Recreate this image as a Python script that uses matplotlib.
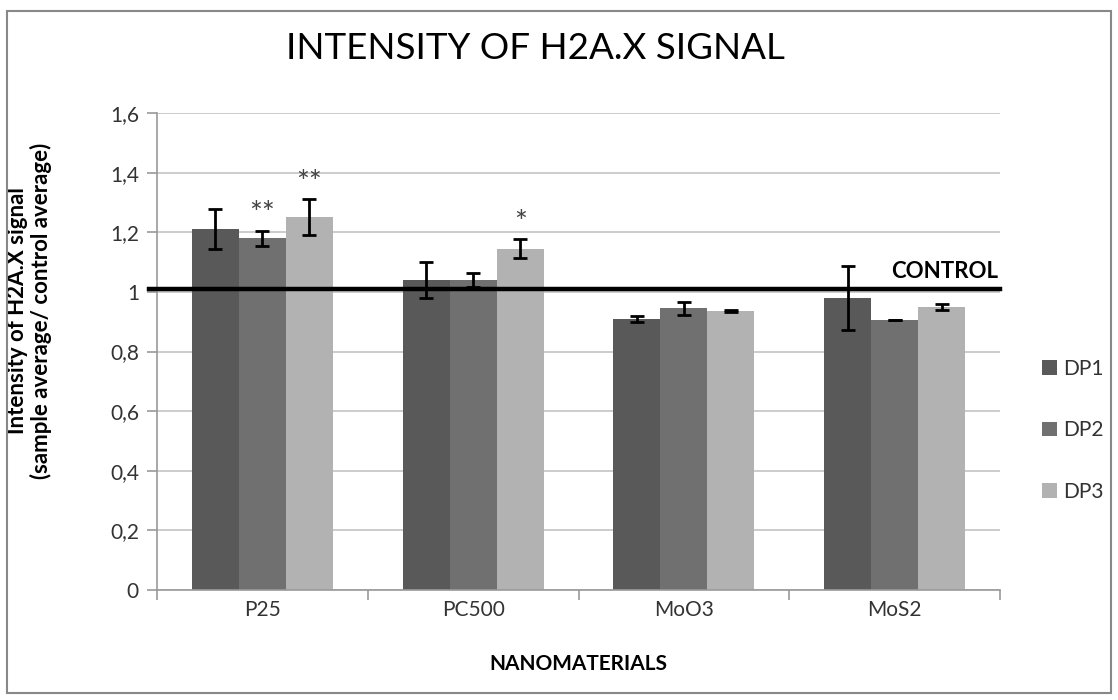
import matplotlib.pyplot as plt
import numpy as np
from matplotlib.patches import Rectangle

plt.rcParams['font.family'] = ['Lato', 'DejaVu Sans']

materials = ['P25', 'PC500', 'MoO3', 'MoS2']
series = ['DP1', 'DP2', 'DP3']
dp1 = [1.21, 1.04, 0.91, 0.98]
dp2 = [1.18, 1.04, 0.945, 0.905]
dp3 = [1.25, 1.145, 0.935, 0.95]
err1 = [0.067, 0.06, 0.01, 0.108]
err2 = [0.025, 0.023, 0.021, 0.0]
err3 = [0.06, 0.032, 0.003, 0.011]
stars = [['', '**', '**'], ['', '', '*'], ['', '', ''], ['', '', '']]
control = 1.01
colors = ['#595959', '#707070', '#b2b2b2']

fig = plt.figure(figsize=(11.18, 7), dpi=100)
ax = fig.add_axes([0.1404, 0.1571, 0.7541, 0.6815])

# outer frame like the excel chart area
fig.patches.append(Rectangle((0.0063, 0.01), 0.9874, 0.974, transform=fig.transFigure,
                             fill=False, edgecolor='#888888', linewidth=1.5))

x = np.arange(len(materials))
w = 0.223
vals = [dp1, dp2, dp3]
errs = [err1, err2, err3]
for i in range(3):
    pos = x + (i - 1) * w
    ax.bar(pos, vals[i], w, color=colors[i], label=series[i], zorder=2)
    ax.errorbar(pos, vals[i], yerr=errs[i], fmt='none', ecolor='black',
                elinewidth=2, capsize=5, capthick=2, zorder=4)
    for j in range(len(materials)):
        if stars[j][i]:
            ax.text(pos[j], vals[i][j] + errs[i][j] + 0.008, stars[j][i],
                    ha='center', va='bottom', fontsize=22, color='#444444')

ax.axhline(control, xmin=-0.01, xmax=1, color='black', linewidth=3.2, zorder=5, clip_on=False)
ax.text(3.49, control + 0.022, 'CONTROL', ha='right', va='bottom',
        fontsize=16, fontweight='bold')

ax.set_xlim(-0.5, 3.5)
ax.set_ylim(0, 1.6)
ax.set_yticks(np.arange(0, 1.61, 0.2))
ax.set_yticklabels(['0', '0,2', '0,4', '0,6', '0,8', '1', '1,2', '1,4', '1,6'])
ax.yaxis.grid(True, color='#c4c4c4', linewidth=1.2)
ax.set_axisbelow(True)
ax.set_xticks(x)
ax.set_xticklabels(materials)
ax.set_xticks(np.arange(-0.5, 3.6, 1), minor=True)
ax.tick_params(axis='x', which='major', length=0, pad=7, labelsize=15, labelcolor='#333333')
ax.tick_params(axis='x', which='minor', length=7, color='#999999', width=1.2)
ax.tick_params(axis='y', length=7, color='#999999', width=1.2, labelsize=15,
               labelcolor='#333333', pad=6)
for s in ['top', 'right']:
    ax.spines[s].set_visible(False)
for s in ['left', 'bottom']:
    ax.spines[s].set_color('#999999')
    ax.spines[s].set_linewidth(1.2)

ax.set_ylabel('Intensity of H2A.X signal\n(sample average/ control average)',
              fontsize=16, fontweight='bold', linespacing=1.1)
ax.yaxis.set_label_coords(-0.125, 0.585)
ax.set_xlabel('NANOMATERIALS', fontsize=15, fontweight='bold')
ax.xaxis.set_label_coords(0.5, -0.135)
fig.text(0.479, 0.931, 'INTENSITY OF H2A.X SIGNAL', ha='center', va='center', fontsize=26.5)

ax.legend(loc='center left', bbox_to_anchor=(1.028, 0.335), frameon=False,
          fontsize=15, handlelength=0.7, handleheight=0.7, handletextpad=0.3,
          labelspacing=2.0, labelcolor='#333333')

plt.savefig('out.png', dpi=100, facecolor='white')
